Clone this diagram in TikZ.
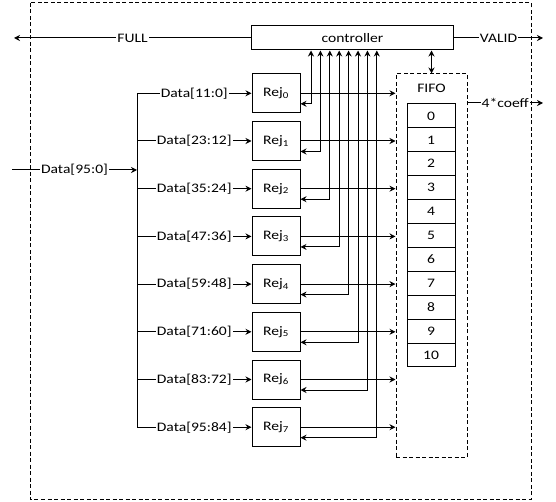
\documentclass[tikz,border=0pt]{standalone}
\usepackage{fontspec}
\setmainfont{Carlito}[FakeStretch=1.2]
\usepackage{tikz}
\usetikzlibrary{arrows.meta,positioning,calc}

\begin{document}
\fontsize{13}{15}\selectfont
\begin{tikzpicture}[x=1pt, y=-1pt,
    blk/.style={draw, line width=1pt, fill=white, minimum width=48pt, minimum height=39pt, inner sep=0pt},
    cell/.style={draw, line width=1pt, minimum width=48pt, minimum height=23.9pt, inner sep=0pt},
    dbox/.style={draw, line width=1pt, dash pattern=on 4pt off 2.5pt},
    arr/.style={-{Stealth[length=6pt,width=6pt]}, line width=1pt},
    barr/.style={{Stealth[length=6pt,width=6pt]}-{Stealth[length=6pt,width=6pt]}, line width=1pt},
    lbl/.style={fill=white, inner sep=1pt}
]
\useasboundingbox (0,0) rectangle (556,502);

% Outer frame
\draw[dbox] (30,3) rectangle (531,499);

% Controller and FIFO
\node[blk, minimum width=202pt, minimum height=24pt] (ctrl) at (352.5,38) {controller};
\node[dbox, minimum width=71pt, minimum height=383pt] (fifo) at (431.5,265.5) {};
\node (fifolbl) at (431.5,88) {FIFO};
\foreach \k in {0,...,10} {
    \node[cell] (c\k) at (431,{115.95+23.9*\k}) {\k};
}
\draw[barr] (ctrl.south -| fifo.north) -- (fifo.north);

% Outputs of the controller and the FIFO
\coordinate (fullend) at (14,38);
\coordinate (validend) at (543,38);
\coordinate (coefend) at (543,103);
\draw[arr] (ctrl.west) -- node[lbl] {FULL} (fullend);
\draw[arr] (ctrl.east) -- node[lbl] {VALID} (validend);
\draw[arr] (fifo.east |- coefend) -- node[lbl] {4*coeff} (coefend);

% Input bus
\coordinate (din) at (12,170);
\coordinate (bus) at (137,170);
\draw[arr] (din) -- node[lbl] {Data[95:0]} (bus);

% Rej blocks
\foreach \i in {0,...,7} {
    \pgfmathsetmacro{\yy}{93.3+47.7*\i}
    \pgfmathsetmacro{\xx}{311+9.4*\i}
    \pgfmathtruncatemacro{\lo}{12*\i}
    \pgfmathtruncatemacro{\hi}{12*\i+11}
    \node[blk] (rej\i) at (276,\yy) {Rej\textsubscript{\i}};
    \coordinate (tap\i) at (137,\yy);
    \coordinate (fb\i) at (\xx,\yy+10.5);
    \draw[arr] (tap\i) -- node[lbl] {Data[\hi:\lo]} (rej\i.west);
    \draw[arr] (rej\i.east) -- (rej\i.east -| fifo.west);
    \draw[barr] (ctrl.south -| fb\i) -- (fb\i) -- (fb\i -| rej\i.east);
}
\draw[line width=1pt] (tap0) -- (tap7);
\end{tikzpicture}
\end{document}
